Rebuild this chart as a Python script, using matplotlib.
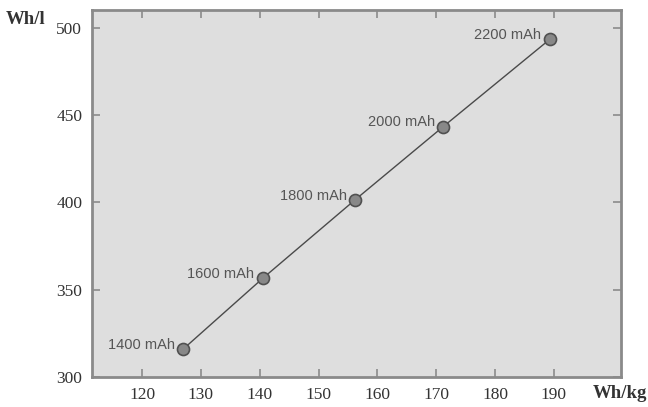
import matplotlib
matplotlib.use('Agg')
import matplotlib.pyplot as plt

# Energy density of cells by capacity.
capacity_labels = ['1400 mAh', '1600 mAh', '1800 mAh', '2000 mAh', '2200 mAh']
wh_per_kg = [127, 140.5, 156.2, 171.2, 189.3]
wh_per_l = [316, 356.5, 401.5, 443.5, 493.5]

x_ticks = [120, 130, 140, 150, 160, 170, 180, 190]
y_ticks = [300, 350, 400, 450, 500]

SPINE = '#8a8a8a'

fig = plt.figure(figsize=(6.48, 4.07), dpi=100)
ax = fig.add_axes([92 / 648, 1 - 377 / 407, 529 / 648, 367 / 407])
ax.set_facecolor('#dedede')

ax.plot(wh_per_kg, wh_per_l, color='#4a4a4a', lw=1.0, zorder=2)
ax.scatter(wh_per_kg, wh_per_l, s=75, facecolor='#888888',
           edgecolor='#505050', linewidth=1.2, zorder=3)
for lab, x, y in zip(capacity_labels, wh_per_kg, wh_per_l):
  ax.annotate(lab, (x, y), xytext=(-6, 3), textcoords='offset points',
              ha='right', va='center', fontsize=10.5, color='#555555',
              family='Liberation Sans')

ax.set_xlim(111.5, 201.4)
ax.set_ylim(300, 510.3)
ax.set_xticks(x_ticks)
ax.set_yticks(y_ticks)
ax.tick_params(direction='in', length=6, width=1.2, color=SPINE,
               top=True, right=True, labelsize=12.5, pad=7,
               labelcolor='#333333')
for lbl in ax.get_xticklabels() + ax.get_yticklabels():
  lbl.set_family('Liberation Serif')
for sp in ax.spines.values():
  sp.set_color(SPINE)
  sp.set_linewidth(2.0)

fig.text(6 / 648, 1 - 20 / 407, 'Wh/l', family='Liberation Serif',
         fontsize=13.5, fontweight='bold', color='#333333', va='center')
fig.text(593 / 648, 1 - 394 / 407, 'Wh/kg', family='Liberation Serif',
         fontsize=13.5, fontweight='bold', color='#333333', va='center')

fig.savefig('out.png', dpi=100)
